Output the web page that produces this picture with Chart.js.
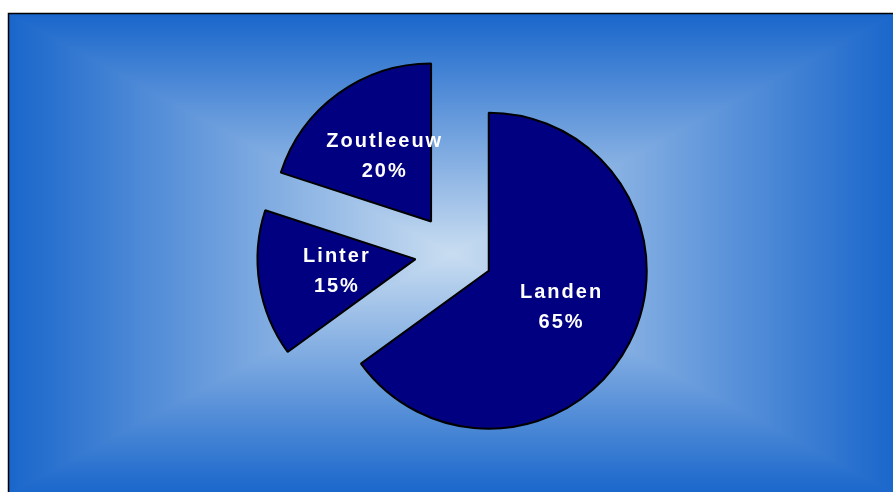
<!DOCTYPE html>
<html>
<head>
<meta charset="utf-8">
<script src="https://cdn.jsdelivr.net/npm/chart.js@4"></script>
<style>
  html, body { margin: 0; padding: 0; background: #fff; }
  #wrap { position: relative; width: 893px; height: 492px; }
</style>
</head>
<body>
<div id="wrap"><canvas id="pie"></canvas></div>
<script>
const labels = ['Landen', 'Linter', 'Zoutleeuw'];
const shares = [65, 15, 20];

// how far every slice is pulled out of the pie, in px
const explode = 39;
const pieRadius = 158;

// rectangular "from center" fill behind the pie, painted per pixel
const frameBg = {
  id: 'frameBg',
  beforeDraw(chart) {
    const ctx = chart.ctx;
    const W = chart.width, H = chart.height;
    const x0 = 9, y0 = 14, x1 = W + 2, y1 = H + 2;
    const cx = (x0 + x1) / 2, cy = (y0 + y1) / 2;
    const hw = (x1 - x0) / 2, hh = (y1 - y0) / 2;
    const edge = [25, 102, 203], mid = [201, 221, 241];
    ctx.save();
    ctx.fillStyle = '#fff';
    ctx.fillRect(0, 0, W, H);
    const w = W - x0, h = H - y0;
    const img = ctx.createImageData(w, h);
    for (let j = 0; j < h; j++) {
      const dy = Math.abs(y0 + j + 0.5 - cy) / hh;
      for (let i = 0; i < w; i++) {
        const dx = Math.abs(x0 + i + 0.5 - cx) / hw;
        const t = 1 - Math.min(1, Math.max(dx, dy));
        const k = (j * w + i) * 4;
        img.data[k] = edge[0] + (mid[0] - edge[0]) * t;
        img.data[k + 1] = edge[1] + (mid[1] - edge[1]) * t;
        img.data[k + 2] = edge[2] + (mid[2] - edge[2]) * t;
        img.data[k + 3] = 255;
      }
    }
    ctx.putImageData(img, x0, y0);
    ctx.strokeStyle = '#000';
    ctx.lineWidth = 1.5;
    ctx.strokeRect(x0 - 0.5, y0 - 0.5, x1 - x0 + 10, y1 - y0 + 10);
    ctx.restore();
  }
};

// push each slice out along its bisector (plain translation, same radius for all)
const explodeSlices = {
  id: 'explodeSlices',
  afterDatasetUpdate(chart, args) {
    chart.getDatasetMeta(args.index).data.forEach(arc => {
      const a = (arc.startAngle + arc.endAngle) / 2;
      arc.x += Math.cos(a) * explode;
      arc.y += Math.sin(a) * explode;
    });
  }
};

// name and percentage inside each slice
const sliceLabels = {
  id: 'sliceLabels',
  afterDatasetsDraw(chart) {
    const ctx = chart.ctx;
    const meta = chart.getDatasetMeta(0);
    ctx.save();
    ctx.fillStyle = '#fff';
    ctx.font = 'bold 20px "Liberation Sans", Arial, sans-serif';
    ctx.textAlign = 'center';
    ctx.textBaseline = 'middle';
    const ls = 2;
    ctx.letterSpacing = ls + 'px';
    meta.data.forEach((arc, i) => {
      const a = (arc.startAngle + arc.endAngle) / 2;
      const d = arc.outerRadius * 0.51;
      const tx = arc.x + Math.cos(a) * d + ls / 2;
      const ty = arc.y + Math.sin(a) * d;
      ctx.fillText(labels[i], tx, ty - 15);
      ctx.fillText(shares[i] + '%', tx, ty + 15);
    });
    ctx.restore();
  }
};

new Chart(document.getElementById('pie'), {
  type: 'pie',
  data: {
    labels: labels,
    datasets: [{
      data: shares,
      backgroundColor: '#000080',
      borderColor: '#000',
      borderWidth: 2,
      radius: pieRadius
    }]
  },
  options: {
    responsive: true,
    maintainAspectRatio: false,
    animation: false,
    events: [],
    layout: { padding: { left: 15, top: 14, right: 0, bottom: 0 } },
    plugins: { legend: { display: false }, tooltip: { enabled: false } }
  },
  plugins: [frameBg, explodeSlices, sliceLabels]
});
</script>
</body>
</html>
